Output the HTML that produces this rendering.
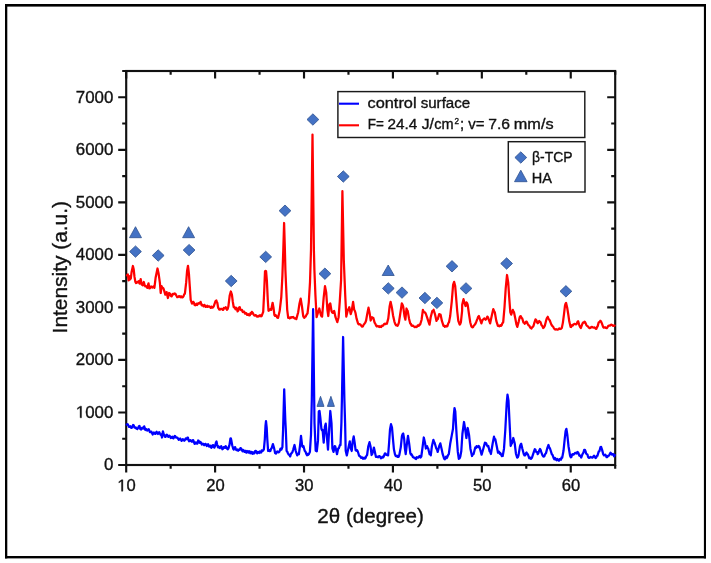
<!DOCTYPE html><html><head><meta charset="utf-8"><style>html,body{margin:0;padding:0;background:#fff;}svg{display:block;will-change:transform}</style></head><body>
<svg width="711" height="563" viewBox="0 0 711 563">
<rect x="0" y="0" width="711" height="563" fill="#fff"/>
<rect x="5" y="4" width="701" height="2.6" fill="#000"/><rect x="5" y="4" width="2.3" height="554.4" fill="#000"/><rect x="703.9" y="4" width="2.1" height="554.4" fill="#000"/><rect x="5" y="556" width="701" height="2.4" fill="#000"/>
<rect x="126.2" y="71.0" width="489.0" height="394.0" fill="none" stroke="#111" stroke-width="2.15"/>
<path d="M126.20,465.0V472.5M126.20,71.0V78.5M170.65,465.0V468.8M170.65,71.0V74.8M215.11,465.0V472.5M215.11,71.0V78.5M259.56,465.0V468.8M259.56,71.0V74.8M304.02,465.0V472.5M304.02,71.0V78.5M348.47,465.0V468.8M348.47,71.0V74.8M392.93,465.0V472.5M392.93,71.0V78.5M437.38,465.0V468.8M437.38,71.0V74.8M481.84,465.0V472.5M481.84,71.0V78.5M526.29,465.0V468.8M526.29,71.0V74.8M570.75,465.0V472.5M570.75,71.0V78.5M615.20,465.0V468.8M615.20,71.0V74.8M126.2,465.00H118.2M615.2,465.00H607.2M126.2,438.73H122.2M615.2,438.73H611.2M126.2,412.47H118.2M615.2,412.47H607.2M126.2,386.20H122.2M615.2,386.20H611.2M126.2,359.93H118.2M615.2,359.93H607.2M126.2,333.67H122.2M615.2,333.67H611.2M126.2,307.40H118.2M615.2,307.40H607.2M126.2,281.13H122.2M615.2,281.13H611.2M126.2,254.87H118.2M615.2,254.87H607.2M126.2,228.60H122.2M615.2,228.60H611.2M126.2,202.33H118.2M615.2,202.33H607.2M126.2,176.07H122.2M615.2,176.07H611.2M126.2,149.80H118.2M615.2,149.80H607.2M126.2,123.53H122.2M615.2,123.53H611.2M126.2,97.27H118.2M615.2,97.27H607.2M126.2,71.00H122.2M615.2,71.00H611.2" fill="none" stroke="#111" stroke-width="2.15"/>
<path d="M127.0,275.3 L127.8,274.4 L128.6,280.3 L129.1,276.1 L129.9,279.5 L130.4,278.5 L130.8,278.6 L131.6,271.9 L132.9,266.0 L133.7,269.3 L134.5,276.9 L135.4,282.0 L136.1,283.1 L136.7,282.8 L137.3,281.8 L137.9,282.0 L138.4,282.3 L138.8,281.2 L139.6,283.7 L140.7,279.1 L141.7,284.5 L142.2,284.3 L142.7,285.4 L143.8,282.0 L144.7,285.4 L145.3,286.3 L145.9,286.2 L146.6,286.6 L147.2,287.9 L148.5,283.3 L149.3,288.3 L149.9,288.2 L150.6,286.6 L151.2,286.5 L151.8,287.5 L152.4,287.6 L153.1,286.6 L153.8,286.4 L154.4,287.9 L155.6,277.8 L157.5,268.5 L158.6,273.6 L159.9,282.8 L160.7,293.0 L161.6,286.2 L162.2,287.7 L162.8,287.9 L163.4,288.4 L164.1,290.4 L165.3,294.7 L165.9,294.0 L166.6,292.1 L167.9,298.0 L169.1,293.0 L169.8,293.4 L170.4,295.1 L171.1,296.2 L171.7,296.4 L172.3,294.4 L172.9,293.8 L173.8,294.4 L174.6,293.4 L175.4,293.8 L176.3,295.5 L177.2,297.1 L178.0,297.2 L178.8,296.1 L179.7,296.4 L180.4,297.2 L181.1,296.3 L181.8,297.3 L182.7,297.3 L183.6,296.0 L184.2,294.3 L184.9,293.7 L186.2,282.2 L187.1,270.7 L188.0,265.8 L188.9,273.3 L189.8,286.6 L190.7,299.9 L192.0,303.6 L192.7,303.1 L193.3,301.8 L193.9,302.6 L194.6,304.9 L195.3,305.3 L196.0,304.5 L196.6,303.6 L197.2,305.0 L197.8,304.0 L198.4,303.1 L199.1,303.6 L199.8,303.5 L200.6,301.8 L201.7,305.4 L202.4,305.0 L203.1,305.8 L203.7,306.4 L204.3,304.9 L204.9,305.4 L205.8,306.9 L206.6,306.7 L207.2,305.8 L207.8,306.9 L208.4,306.3 L209.3,306.3 L210.2,307.2 L210.8,307.9 L211.4,306.6 L212.0,307.6 L212.8,307.6 L213.7,306.3 L215.1,302.3 L215.8,300.7 L216.4,300.5 L216.9,302.2 L217.3,302.7 L218.2,308.0 L218.6,308.1 L219.1,309.4 L219.9,309.7 L220.8,308.9 L221.7,308.8 L222.6,309.8 L223.2,309.9 L223.8,307.9 L224.4,308.0 L225.1,308.4 L225.7,307.2 L226.3,307.8 L227.0,309.8 L227.7,308.9 L228.4,306.3 L229.7,295.5 L230.8,291.5 L231.9,294.6 L232.8,301.7 L233.7,307.0 L234.3,306.9 L235.0,308.4 L235.6,309.2 L236.2,307.7 L236.8,308.4 L237.6,311.4 L238.3,310.5 L239.0,307.7 L239.7,307.1 L240.5,309.5 L241.3,310.3 L242.0,310.0 L242.8,312.0 L243.5,311.9 L244.2,311.7 L244.9,313.5 L245.6,313.5 L246.3,313.1 L247.0,314.9 L247.7,314.6 L248.4,314.2 L249.2,315.4 L249.9,315.1 L250.5,313.2 L251.2,313.8 L251.8,311.9 L252.7,312.8 L253.6,314.6 L254.4,315.6 L255.2,315.1 L255.9,315.2 L256.6,316.5 L257.3,316.7 L258.0,315.9 L258.7,316.5 L259.4,315.6 L260.1,315.2 L260.9,316.3 L261.6,316.2 L263.2,311.9 L264.2,291.6 L265.0,271.4 L265.6,270.9 L266.1,271.4 L266.9,281.0 L267.8,300.2 L268.5,310.8 L269.3,310.3 L270.1,309.2 L270.6,309.0 L271.2,309.8 L272.6,302.8 L273.5,307.6 L274.4,315.1 L275.1,315.9 L275.8,315.3 L276.5,316.2 L277.3,317.6 L278.1,317.8 L279.7,310.8 L281.3,297.0 L282.4,275.7 L283.3,250.0 L284.1,223.0 L284.9,250.0 L285.4,270.0 L286.1,286.3 L287.2,309.8 L288.2,317.8 L288.9,317.3 L289.7,318.4 L290.4,317.8 L291.1,317.2 L291.8,317.7 L292.5,317.2 L293.2,317.0 L293.9,317.8 L294.7,318.5 L295.5,318.3 L296.3,319.1 L298.2,312.2 L299.5,303.5 L300.7,298.6 L301.9,306.0 L303.2,316.0 L303.8,317.3 L304.4,317.8 L305.0,316.5 L305.7,316.5 L306.3,315.3 L306.9,314.1 L307.5,313.5 L308.8,302.3 L310.0,282.4 L311.0,250.0 L312.5,134.6 L313.9,250.0 L314.4,270.0 L315.4,294.8 L316.6,317.2 L318.1,312.2 L319.3,308.5 L320.8,314.7 L321.5,316.2 L322.1,316.6 L323.7,297.3 L325.0,286.1 L326.2,292.4 L327.4,309.8 L328.3,316.0 L329.3,304.8 L329.8,303.8 L330.3,303.5 L331.5,311.0 L332.2,312.5 L333.0,312.9 L333.6,311.4 L334.2,311.0 L335.5,317.2 L337.3,322.2 L338.6,317.2 L339.8,301.1 L341.1,279.9 L342.4,191.2 L343.8,260.0 L344.2,270.0 L345.2,294.8 L346.3,316.6 L347.9,309.8 L348.6,308.9 L349.3,307.2 L350.7,314.1 L351.7,310.9 L353.1,301.8 L354.2,309.8 L354.9,311.0 L355.5,313.0 L356.5,318.4 L358.1,323.7 L358.9,324.4 L359.7,324.2 L360.5,324.5 L361.3,325.8 L362.1,326.6 L362.9,326.4 L363.7,324.6 L364.5,323.7 L365.3,322.6 L366.1,320.5 L367.2,314.1 L368.5,307.7 L369.6,313.0 L370.7,320.5 L371.4,318.3 L372.0,317.3 L372.6,318.0 L373.3,317.8 L374.6,322.6 L375.4,323.8 L376.2,325.8 L376.9,326.5 L377.7,325.8 L378.4,326.4 L379.1,327.0 L379.8,326.1 L380.5,326.9 L381.2,327.0 L381.9,325.7 L382.6,325.8 L383.3,325.4 L384.1,324.0 L384.8,323.7 L385.5,324.2 L386.2,323.4 L386.9,323.7 L388.3,318.4 L389.6,306.6 L390.6,301.8 L391.9,307.7 L393.0,315.2 L394.4,321.6 L395.2,323.9 L396.0,325.3 L396.8,325.1 L397.6,325.8 L398.2,324.5 L398.9,322.6 L400.2,314.1 L401.8,303.4 L402.5,304.5 L403.2,306.6 L404.5,316.2 L405.4,319.7 L406.5,308.5 L407.1,310.2 L407.7,311.0 L409.0,318.4 L410.2,323.4 L410.8,323.7 L411.5,325.5 L412.1,325.9 L413.0,325.7 L413.9,326.5 L414.7,327.2 L415.6,326.6 L416.4,327.1 L417.0,326.8 L417.7,325.4 L418.3,325.3 L418.9,325.7 L419.5,324.5 L420.1,324.7 L421.6,319.7 L422.9,309.8 L423.5,311.4 L424.1,312.2 L424.9,312.4 L425.7,313.5 L427.0,317.2 L428.2,320.9 L429.5,324.7 L430.7,317.2 L432.3,311.0 L433.0,310.8 L433.6,309.8 L435.1,314.7 L436.5,320.9 L437.1,319.6 L437.8,319.1 L439.2,314.1 L439.9,314.8 L440.6,314.7 L441.9,320.9 L443.5,325.9 L444.2,325.7 L444.9,326.8 L445.6,326.5 L446.2,325.9 L446.9,326.5 L447.5,325.9 L448.2,323.5 L449.0,322.2 L450.2,316.0 L451.8,301.1 L453.1,284.9 L454.1,281.8 L455.2,286.1 L456.2,298.6 L457.2,311.0 L458.3,320.9 L459.7,324.7 L460.3,323.8 L460.9,322.2 L462.1,311.0 L462.2,304.8 L463.5,299.2 L464.7,303.5 L465.6,306.0 L466.5,302.3 L467.1,303.1 L467.7,304.8 L468.9,313.5 L470.2,322.2 L471.4,326.5 L472.2,327.3 L473.0,327.1 L473.9,325.5 L474.7,324.7 L475.4,323.8 L476.1,322.2 L477.6,318.4 L478.2,316.7 L478.9,316.0 L480.1,319.7 L481.4,323.4 L482.6,319.7 L483.4,319.4 L484.2,318.4 L484.9,318.7 L485.7,319.7 L486.5,318.6 L487.3,316.6 L488.0,317.3 L488.6,319.1 L490.1,323.4 L491.7,316.0 L493.3,309.1 L494.1,311.0 L494.8,312.2 L496.3,320.9 L497.9,325.9 L498.5,325.5 L499.2,326.3 L499.8,325.9 L500.4,325.1 L501.0,325.9 L501.6,325.3 L502.4,323.2 L503.2,322.2 L504.5,307.3 L505.7,288.6 L507.0,275.0 L508.2,282.4 L509.2,297.3 L510.3,312.2 L511.2,314.7 L512.8,309.8 L513.4,311.4 L514.0,312.2 L515.3,318.4 L516.5,324.7 L517.3,326.9 L518.7,321.6 L519.7,317.3 L520.2,316.3 L520.8,316.2 L521.5,317.8 L522.2,318.4 L523.5,322.6 L524.1,322.6 L524.7,323.7 L525.4,323.1 L526.1,321.6 L526.7,321.7 L527.2,322.6 L527.9,324.3 L528.6,325.3 L529.2,325.6 L529.9,326.9 L530.7,328.1 L531.5,328.5 L532.1,327.2 L532.8,326.9 L533.5,325.9 L534.1,323.7 L535.5,319.4 L536.0,319.8 L536.6,321.0 L537.2,322.5 L537.8,323.2 L538.5,321.6 L539.2,321.0 L539.9,322.0 L540.5,322.1 L541.6,325.3 L542.4,326.1 L543.2,328.0 L544.0,327.3 L544.8,325.8 L546.4,319.4 L547.1,317.8 L547.8,316.8 L548.4,318.5 L549.0,319.4 L549.8,320.5 L550.6,322.6 L551.4,324.6 L552.2,325.8 L553.0,326.5 L553.8,328.0 L554.6,329.2 L555.4,329.6 L556.2,329.2 L557.0,329.6 L557.8,329.7 L558.6,329.0 L559.4,328.4 L560.2,329.0 L561.0,328.8 L561.8,328.0 L562.9,322.6 L564.0,314.1 L565.0,305.6 L565.5,303.9 L566.1,302.9 L567.2,307.7 L568.4,315.2 L569.3,321.6 L570.6,326.9 L571.1,327.0 L571.6,326.0 L572.3,324.9 L572.9,325.5 L573.6,324.4 L574.4,323.8 L575.2,324.0 L576.0,324.4 L576.8,323.6 L577.5,321.8 L578.1,321.2 L579.2,324.8 L580.0,326.8 L580.8,328.0 L582.0,324.8 L582.7,323.1 L583.4,322.4 L584.0,322.6 L584.5,321.7 L585.1,322.2 L585.8,323.6 L586.5,325.3 L587.2,326.0 L588.0,326.4 L588.8,327.6 L589.6,328.2 L590.4,328.0 L591.2,327.0 L592.0,326.8 L592.8,327.5 L593.6,327.6 L594.4,327.3 L595.2,328.0 L595.8,328.8 L596.4,328.8 L597.0,327.1 L597.6,326.4 L598.7,322.4 L599.5,321.9 L600.3,320.8 L601.0,321.4 L601.8,323.2 L603.1,326.8 L603.7,327.7 L604.3,327.6 L605.1,327.2 L605.9,328.0 L606.7,328.2 L607.5,327.2 L608.3,325.8 L609.1,325.6 L609.9,325.7 L610.7,324.8 L611.5,324.7 L612.3,325.2 L613.1,325.9 L613.9,325.6 L614.7,325.6" fill="none" stroke="#ff0000" stroke-width="2.25" stroke-linejoin="round" stroke-linecap="round"/>
<path d="M126.7,424.6 L127.6,424.2 L128.4,425.5 L129.1,426.9 L129.8,426.9 L130.4,426.3 L131.1,427.8 L131.8,427.8 L132.4,426.4 L133.1,425.0 L133.8,425.5 L134.4,427.5 L135.1,427.8 L135.8,427.5 L136.4,428.6 L137.3,429.1 L138.2,427.8 L138.8,426.3 L139.5,426.0 L140.4,429.1 L141.1,429.5 L141.8,428.2 L142.4,427.7 L143.1,428.6 L143.6,428.2 L144.2,426.4 L145.3,430.0 L145.9,428.9 L146.6,429.5 L147.3,430.6 L148.0,429.5 L148.7,429.2 L149.3,430.4 L149.9,432.1 L150.6,432.2 L151.3,431.6 L152.0,433.1 L152.7,434.5 L153.3,433.5 L153.9,432.5 L154.6,433.5 L155.3,433.9 L156.0,432.6 L156.7,431.8 L157.3,433.5 L157.9,434.0 L158.6,433.1 L159.2,432.1 L159.9,433.5 L160.6,434.8 L161.3,434.4 L162.0,437.5 L162.9,431.3 L163.8,434.4 L164.3,434.8 L164.8,436.6 L165.5,436.8 L166.2,435.7 L166.8,434.7 L167.5,435.3 L168.2,436.9 L168.8,436.2 L169.5,435.7 L170.2,436.6 L170.8,438.0 L171.5,437.5 L172.2,436.7 L172.8,438.0 L173.4,438.4 L174.1,437.1 L174.8,435.9 L175.5,436.6 L176.2,437.7 L176.8,437.5 L177.4,437.5 L178.1,438.8 L178.8,439.8 L179.5,439.3 L180.2,438.5 L181.0,439.8 L181.6,440.9 L182.1,440.3 L182.8,439.2 L183.5,439.7 L184.3,440.7 L185.1,439.8 L185.7,438.5 L186.3,439.0 L186.9,439.2 L187.4,437.7 L187.9,437.6 L188.4,439.8 L189.1,441.3 L189.7,440.7 L190.3,440.1 L191.0,441.1 L191.8,441.7 L192.5,440.3 L193.2,440.1 L193.9,441.9 L194.6,443.9 L195.2,443.6 L195.8,442.3 L196.5,443.2 L197.1,443.8 L197.7,442.8 L198.2,440.5 L198.7,440.7 L199.2,442.4 L199.8,442.8 L200.4,441.9 L201.1,442.8 L201.8,444.5 L202.4,444.1 L203.0,443.6 L203.6,444.5 L204.2,445.2 L204.9,444.1 L205.6,443.9 L206.2,444.9 L206.8,446.1 L207.4,445.3 L208.1,444.2 L208.7,445.3 L209.3,446.7 L210.0,446.2 L210.6,445.8 L211.2,447.8 L211.8,447.4 L212.5,445.3 L213.2,445.1 L213.8,447.0 L214.4,447.6 L215.0,446.2 L215.9,442.8 L216.5,441.5 L217.1,444.5 L218.0,447.4 L218.6,446.4 L219.2,447.4 L219.8,448.1 L220.5,447.0 L221.2,446.1 L221.8,447.4 L222.4,449.3 L223.0,448.7 L223.7,447.1 L224.3,447.4 L224.9,447.8 L225.6,446.2 L226.2,446.6 L226.8,448.3 L227.7,449.4 L228.5,448.3 L229.4,445.3 L230.4,438.6 L230.9,438.4 L231.3,440.3 L232.2,445.3 L233.2,448.7 L233.8,449.5 L234.4,447.8 L235.1,447.1 L235.7,448.7 L236.3,450.2 L237.0,450.0 L237.6,449.5 L238.2,450.8 L238.9,449.6 L239.7,449.9 L240.4,448.1 L241.2,448.5 L241.9,450.1 L242.5,451.3 L243.2,450.0 L243.8,451.0 L244.5,451.9 L245.1,450.7 L245.8,451.5 L246.4,452.7 L247.1,451.0 L247.7,451.8 L248.4,452.6 L249.0,451.1 L249.7,452.0 L250.3,453.3 L251.0,451.7 L251.6,452.5 L252.3,453.7 L252.9,452.2 L253.6,453.5 L254.3,453.4 L255.1,451.0 L255.8,450.8 L256.5,452.5 L257.2,453.4 L257.8,451.9 L258.5,452.5 L259.1,453.0 L259.8,451.5 L260.4,452.0 L261.1,452.6 L261.7,450.4 L262.4,451.0 L263.1,450.6 L263.9,449.1 L264.8,439.3 L265.5,425.6 L266.0,421.2 L266.7,427.6 L267.3,439.3 L268.1,451.0 L268.6,450.0 L269.2,450.1 L269.8,451.2 L270.4,451.0 L271.0,448.9 L271.7,448.1 L272.9,444.2 L274.1,448.1 L275.1,453.0 L275.9,453.5 L276.6,452.5 L277.3,451.5 L278.0,452.0 L278.8,452.4 L279.5,451.5 L280.5,448.6 L281.4,449.6 L282.4,447.1 L283.1,429.5 L284.2,389.4 L285.3,420.0 L285.8,429.5 L286.6,451.0 L287.2,451.5 L287.8,453.0 L288.6,454.5 L289.3,454.5 L290.2,456.4 L290.9,454.0 L291.7,453.0 L292.4,452.1 L293.2,449.6 L294.5,445.0 L295.7,450.8 L297.2,455.4 L298.0,453.8 L298.9,454.2 L300.1,445.0 L301.0,435.8 L302.2,446.2 L302.9,447.0 L303.5,446.2 L304.7,450.8 L305.5,451.7 L306.4,454.2 L307.0,455.2 L307.6,453.8 L308.2,454.8 L309.0,453.9 L309.9,451.9 L311.0,434.6 L311.8,400.0 L313.1,309.2 L314.2,400.0 L314.5,423.1 L315.7,450.8 L316.2,450.1 L316.8,451.3 L318.0,440.4 L318.8,411.5 L319.5,411.0 L320.3,417.3 L321.4,428.8 L322.0,430.3 L322.6,430.0 L323.7,442.7 L324.9,426.5 L325.7,423.7 L326.6,433.5 L328.0,449.6 L329.2,428.8 L330.3,411.0 L331.5,423.1 L332.4,448.5 L333.5,451.9 L334.7,446.2 L335.2,446.4 L335.8,448.5 L337.0,454.2 L338.2,448.5 L338.9,448.2 L339.5,446.2 L340.0,444.9 L340.5,445.0 L341.4,423.1 L341.9,400.0 L343.1,337.0 L344.4,400.0 L345.1,423.1 L345.7,450.8 L346.8,455.4 L348.3,448.5 L349.8,441.3 L350.7,448.1 L351.7,451.0 L352.7,441.3 L353.7,436.4 L354.6,442.2 L355.6,450.1 L356.3,450.8 L357.0,450.1 L357.6,451.0 L358.3,453.0 L359.0,455.5 L359.7,456.4 L360.4,456.4 L361.0,457.9 L361.7,457.9 L362.3,457.5 L363.0,458.8 L363.6,458.4 L364.3,457.6 L364.9,458.6 L365.6,457.9 L366.4,455.9 L367.1,455.0 L368.3,446.2 L369.5,442.2 L370.5,446.2 L371.6,455.0 L372.2,454.1 L372.9,452.0 L373.9,447.6 L374.9,452.0 L375.9,456.9 L376.6,456.3 L377.3,456.9 L378.1,457.3 L378.8,456.4 L379.5,456.1 L380.2,456.9 L380.9,458.3 L381.7,457.9 L382.4,456.8 L383.2,457.4 L383.8,456.5 L384.4,454.5 L385.0,453.4 L385.6,453.5 L386.2,454.9 L386.9,455.0 L387.5,454.5 L388.1,455.4 L389.0,444.2 L390.0,429.5 L391.0,424.2 L392.0,427.6 L393.0,439.3 L393.9,449.1 L394.9,454.0 L395.6,455.8 L396.4,456.4 L397.1,455.7 L397.8,456.9 L398.6,456.9 L399.3,455.0 L400.8,447.1 L401.9,436.4 L402.5,434.2 L403.2,433.5 L404.2,439.3 L404.9,448.5 L405.7,454.2 L406.9,443.8 L408.0,435.8 L409.2,443.8 L410.3,453.1 L410.9,454.6 L411.5,454.1 L412.1,455.4 L413.0,457.1 L413.8,457.7 L414.6,457.6 L415.5,458.8 L416.1,459.1 L416.7,457.2 L417.3,457.7 L418.1,457.7 L419.0,456.5 L419.8,456.0 L420.5,457.5 L421.3,456.5 L422.7,446.2 L423.8,437.5 L425.0,442.7 L425.9,448.5 L426.5,446.6 L427.1,446.2 L427.6,447.9 L428.2,448.5 L429.6,454.2 L430.2,454.0 L430.8,455.4 L431.9,446.2 L433.4,439.8 L434.0,441.8 L434.6,442.7 L436.3,448.5 L437.0,449.4 L437.7,451.9 L439.2,446.2 L440.3,443.3 L441.5,448.5 L442.7,454.2 L444.2,458.8 L444.9,459.2 L445.5,457.7 L446.1,456.6 L446.7,458.1 L447.3,457.1 L448.1,455.0 L448.8,454.2 L450.2,443.8 L451.9,434.6 L453.0,428.8 L453.8,415.0 L454.5,408.1 L455.3,411.5 L455.9,423.1 L456.8,438.1 L457.8,451.9 L458.8,458.8 L459.6,458.3 L460.3,456.5 L461.3,451.0 L462.4,434.0 L464.0,422.0 L465.3,430.0 L466.4,438.0 L467.7,428.0 L469.1,435.3 L470.4,448.7 L472.0,456.0 L472.8,454.4 L473.6,454.0 L475.3,447.3 L476.0,448.0 L476.6,446.1 L477.3,446.7 L478.0,447.2 L478.7,446.0 L479.4,446.7 L480.0,448.7 L481.6,454.7 L483.3,448.7 L484.9,442.7 L485.5,444.0 L486.1,443.1 L486.7,444.7 L487.5,446.3 L488.3,446.0 L489.6,451.3 L490.2,451.7 L490.9,454.0 L492.7,443.3 L494.0,436.7 L494.6,438.9 L495.3,439.3 L496.7,446.0 L498.0,452.7 L498.6,451.4 L499.3,452.0 L499.9,453.8 L500.5,453.2 L501.1,454.7 L501.9,456.1 L502.7,456.0 L504.0,448.7 L505.3,430.0 L506.7,403.3 L507.5,394.7 L508.5,400.7 L509.6,423.3 L510.7,446.0 L511.4,444.0 L512.0,443.3 L513.3,438.0 L514.7,443.3 L516.0,454.0 L517.2,457.7 L517.9,457.1 L518.5,455.4 L520.0,446.2 L520.6,444.5 L521.2,443.8 L522.3,448.5 L523.8,454.2 L524.5,455.4 L525.2,455.4 L525.9,453.3 L526.6,452.5 L527.2,454.2 L527.8,454.2 L529.3,458.3 L530.1,457.6 L531.0,458.8 L531.9,457.8 L532.7,455.4 L534.2,450.8 L534.8,449.2 L535.4,449.6 L536.0,451.7 L536.5,451.9 L537.1,452.1 L537.7,454.2 L538.4,453.2 L539.1,450.8 L540.0,449.0 L540.6,449.8 L541.2,451.9 L542.5,455.4 L543.4,456.6 L544.3,456.5 L545.1,454.2 L546.0,453.1 L547.2,448.5 L548.5,445.0 L549.2,447.4 L550.0,448.5 L551.8,454.2 L552.6,455.1 L553.5,457.7 L554.3,459.2 L555.0,457.9 L555.8,459.4 L556.6,460.3 L557.3,459.0 L558.1,460.0 L558.9,460.7 L559.6,459.1 L560.4,459.4 L561.0,459.7 L561.6,457.3 L562.2,457.7 L563.5,450.8 L564.7,439.2 L565.6,431.2 L566.4,428.8 L567.3,434.6 L568.5,446.2 L570.1,455.8 L570.8,457.3 L571.4,457.1 L572.0,454.7 L572.7,454.1 L573.5,454.6 L574.4,453.7 L575.2,452.9 L576.1,453.3 L576.8,453.5 L577.4,452.0 L578.0,452.2 L578.7,453.7 L579.3,455.7 L579.9,455.8 L580.5,455.7 L581.2,457.5 L582.5,454.1 L583.4,452.7 L584.2,449.9 L584.9,449.8 L585.5,451.1 L586.1,453.6 L586.8,454.1 L587.5,454.7 L588.1,457.1 L589.0,457.9 L589.8,457.5 L590.6,456.9 L591.5,457.5 L592.4,457.7 L593.2,456.7 L594.0,455.7 L594.9,456.7 L595.5,458.0 L596.2,457.5 L596.8,456.1 L597.4,455.8 L598.7,451.6 L599.4,451.2 L600.0,449.0 L600.5,447.0 L601.1,446.9 L602.1,449.9 L603.2,454.1 L604.0,455.4 L604.7,455.0 L605.4,454.7 L606.0,455.8 L606.6,457.2 L607.2,457.1 L607.9,455.9 L608.5,455.8 L609.1,455.5 L609.8,454.1 L610.5,452.7 L611.1,453.3 L611.8,454.5 L612.4,454.1 L613.0,454.0 L613.6,455.4 L614.2,456.2 L614.8,455.0" fill="none" stroke="#0000ff" stroke-width="2.25" stroke-linejoin="round" stroke-linecap="round"/>
<path transform="translate(117.27,491.2) scale(0.008105,-0.008105)" d="M515 0V1237L197 1010V1180L530 1409H696V0Z" fill="#111" stroke="#111" stroke-width="43.2"/><text x="126.50" y="491.2" font-family="Liberation Sans, sans-serif" font-size="16.6" fill="#111" stroke="#111" stroke-width="0.35">0</text>
<text x="206.18" y="491.2" font-family="Liberation Sans, sans-serif" font-size="16.6" fill="#111" stroke="#111" stroke-width="0.35">20</text>
<text x="295.09" y="491.2" font-family="Liberation Sans, sans-serif" font-size="16.6" fill="#111" stroke="#111" stroke-width="0.35">30</text>
<text x="384.00" y="491.2" font-family="Liberation Sans, sans-serif" font-size="16.6" fill="#111" stroke="#111" stroke-width="0.35">40</text>
<text x="472.91" y="491.2" font-family="Liberation Sans, sans-serif" font-size="16.6" fill="#111" stroke="#111" stroke-width="0.35">50</text>
<text x="561.82" y="491.2" font-family="Liberation Sans, sans-serif" font-size="16.6" fill="#111" stroke="#111" stroke-width="0.35">60</text>
<text x="104.00" y="470.3" font-family="Liberation Sans, sans-serif" font-size="16.9" fill="#111" stroke="#111" stroke-width="0.35">0</text>
<path transform="translate(75.81,417.8) scale(0.008252,-0.008252)" d="M515 0V1237L197 1010V1180L530 1409H696V0Z" fill="#111" stroke="#111" stroke-width="42.4"/><text x="85.21" y="417.8" font-family="Liberation Sans, sans-serif" font-size="16.9" fill="#111" stroke="#111" stroke-width="0.35">000</text>
<text x="75.81" y="365.2" font-family="Liberation Sans, sans-serif" font-size="16.9" fill="#111" stroke="#111" stroke-width="0.35">2000</text>
<text x="75.81" y="312.7" font-family="Liberation Sans, sans-serif" font-size="16.9" fill="#111" stroke="#111" stroke-width="0.35">3000</text>
<text x="75.81" y="260.2" font-family="Liberation Sans, sans-serif" font-size="16.9" fill="#111" stroke="#111" stroke-width="0.35">4000</text>
<text x="75.81" y="207.6" font-family="Liberation Sans, sans-serif" font-size="16.9" fill="#111" stroke="#111" stroke-width="0.35">5000</text>
<text x="75.81" y="155.1" font-family="Liberation Sans, sans-serif" font-size="16.9" fill="#111" stroke="#111" stroke-width="0.35">6000</text>
<text x="75.81" y="102.6" font-family="Liberation Sans, sans-serif" font-size="16.9" fill="#111" stroke="#111" stroke-width="0.35">7000</text>
<text x="370.5" y="522.7" font-family="Liberation Sans, sans-serif" font-size="20.6" text-anchor="middle" fill="#111" stroke="#111" stroke-width="0.35">2θ (degree)</text>
<text transform="translate(67.2,267.2) rotate(-90)" x="0" y="0" font-family="Liberation Sans, sans-serif" font-size="20.9" text-anchor="middle" fill="#111" stroke="#111" stroke-width="0.35">Intensity (a.u.)</text>
<path d="M129.6,251.6L135.5,245.9L141.4,251.6L135.5,257.3Z" fill="#4472c4" stroke="#2f528f" stroke-width="0.8"/>
<path d="M152.3,255.5L158.2,249.8L164.1,255.5L158.2,261.2Z" fill="#4472c4" stroke="#2f528f" stroke-width="0.8"/>
<path d="M183.2,250.1L189.1,244.4L195.0,250.1L189.1,255.8Z" fill="#4472c4" stroke="#2f528f" stroke-width="0.8"/>
<path d="M225.3,281.0L231.2,275.3L237.1,281.0L231.2,286.7Z" fill="#4472c4" stroke="#2f528f" stroke-width="0.8"/>
<path d="M259.8,256.9L265.7,251.2L271.6,256.9L265.7,262.6Z" fill="#4472c4" stroke="#2f528f" stroke-width="0.8"/>
<path d="M279.1,210.7L285.0,205.0L290.9,210.7L285.0,216.4Z" fill="#4472c4" stroke="#2f528f" stroke-width="0.8"/>
<path d="M307.0,119.5L312.9,113.8L318.8,119.5L312.9,125.2Z" fill="#4472c4" stroke="#2f528f" stroke-width="0.8"/>
<path d="M319.0,273.7L324.9,268.0L330.8,273.7L324.9,279.4Z" fill="#4472c4" stroke="#2f528f" stroke-width="0.8"/>
<path d="M337.4,176.5L343.3,170.8L349.2,176.5L343.3,182.2Z" fill="#4472c4" stroke="#2f528f" stroke-width="0.8"/>
<path d="M382.4,288.4L388.3,282.7L394.2,288.4L388.3,294.1Z" fill="#4472c4" stroke="#2f528f" stroke-width="0.8"/>
<path d="M396.1,292.6L402.0,286.9L407.9,292.6L402.0,298.3Z" fill="#4472c4" stroke="#2f528f" stroke-width="0.8"/>
<path d="M419.0,298.0L424.9,292.3L430.8,298.0L424.9,303.7Z" fill="#4472c4" stroke="#2f528f" stroke-width="0.8"/>
<path d="M431.0,302.9L436.9,297.2L442.8,302.9L436.9,308.6Z" fill="#4472c4" stroke="#2f528f" stroke-width="0.8"/>
<path d="M446.1,266.3L452.0,260.6L457.9,266.3L452.0,272.0Z" fill="#4472c4" stroke="#2f528f" stroke-width="0.8"/>
<path d="M460.1,288.4L466.0,282.7L471.9,288.4L466.0,294.1Z" fill="#4472c4" stroke="#2f528f" stroke-width="0.8"/>
<path d="M500.7,263.5L506.6,257.8L512.5,263.5L506.6,269.2Z" fill="#4472c4" stroke="#2f528f" stroke-width="0.8"/>
<path d="M560.0,291.3L565.9,285.6L571.8,291.3L565.9,297.0Z" fill="#4472c4" stroke="#2f528f" stroke-width="0.8"/>
<path d="M129.5,237.7L135.5,226.7L141.5,237.7Z" fill="#4472c4" stroke="#2f528f" stroke-width="0.8"/>
<path d="M182.6,237.7L188.6,226.7L194.6,237.7Z" fill="#4472c4" stroke="#2f528f" stroke-width="0.8"/>
<path d="M382.2,275.5L388.2,265.0L394.2,275.5Z" fill="#4472c4" stroke="#2f528f" stroke-width="0.8"/>
<path d="M317.0,406.4L320.5,396.3L324.0,406.4Z" fill="#4472c4" stroke="#2f528f" stroke-width="0.8"/>
<path d="M327.4,406.4L330.9,396.3L334.4,406.4Z" fill="#4472c4" stroke="#2f528f" stroke-width="0.8"/>
<rect x="337.9" y="91.6" width="246.9" height="45.9" fill="#fff" stroke="#1a1a1a" stroke-width="1.45"/>
<path d="M339,103.7H359" stroke="#0000ff" stroke-width="2.1"/>
<path d="M339,125.3H359" stroke="#ff0000" stroke-width="2.1"/>
<text x="367.51" y="108.0" font-family="Liberation Sans, sans-serif" font-size="14.9" textLength="49.08" lengthAdjust="spacingAndGlyphs" fill="#111" stroke="#111" stroke-width="0.35">control</text>
<text x="420.69" y="108.0" font-family="Liberation Sans, sans-serif" font-size="14.9" textLength="49.48" lengthAdjust="spacingAndGlyphs" fill="#111" stroke="#111" stroke-width="0.35">surface</text>
<text x="367.69" y="128.9" font-family="Liberation Sans, sans-serif" font-size="14.9" textLength="16.08" lengthAdjust="spacingAndGlyphs" fill="#111" stroke="#111" stroke-width="0.35">F=</text>
<text x="387.53" y="128.9" font-family="Liberation Sans, sans-serif" font-size="14.9" textLength="29.81" lengthAdjust="spacingAndGlyphs" fill="#111" stroke="#111" stroke-width="0.35">24.4</text>
<text x="421.67" y="128.9" font-family="Liberation Sans, sans-serif" font-size="14.9" textLength="12.14" lengthAdjust="spacingAndGlyphs" fill="#111" stroke="#111" stroke-width="0.35">J/</text>
<text x="434.28" y="128.9" font-family="Liberation Sans, sans-serif" font-size="14.9" textLength="19.37" lengthAdjust="spacingAndGlyphs" fill="#111" stroke="#111" stroke-width="0.35">cm</text>
<text x="454.49" y="123.8" font-family="Liberation Sans, sans-serif" font-size="9.3" textLength="4.52" lengthAdjust="spacingAndGlyphs" fill="#111" stroke="#111" stroke-width="0.35">2</text>
<text x="459.9" y="128.9" font-family="Liberation Sans, sans-serif" font-size="14.9" fill="#111" stroke="#111" stroke-width="0.35">;</text>
<text x="468.36" y="128.9" font-family="Liberation Sans, sans-serif" font-size="14.9" textLength="16.27" lengthAdjust="spacingAndGlyphs" fill="#111" stroke="#111" stroke-width="0.35">v=</text>
<text x="488.22" y="128.9" font-family="Liberation Sans, sans-serif" font-size="14.9" textLength="21.75" lengthAdjust="spacingAndGlyphs" fill="#111" stroke="#111" stroke-width="0.35">7.6</text>
<text x="513.80" y="128.9" font-family="Liberation Sans, sans-serif" font-size="14.9" textLength="39.75" lengthAdjust="spacingAndGlyphs" fill="#111" stroke="#111" stroke-width="0.35">mm/s</text>
<rect x="508.3" y="141.7" width="76.7" height="50.3" fill="#fff" stroke="#1a1a1a" stroke-width="1.45"/>
<path d="M514.9,157.5L520.8,151.8L526.7,157.5L520.8,163.2Z" fill="#4472c4" stroke="#2f528f" stroke-width="0.8"/>
<path d="M514.5,181.7L520.8,170.2L527.1,181.7Z" fill="#4472c4" stroke="#2f528f" stroke-width="0.8"/>
<text x="532.03" y="162.0" font-family="Liberation Sans, sans-serif" font-size="14.3" textLength="40.48" lengthAdjust="spacingAndGlyphs" fill="#111" stroke="#111" stroke-width="0.35">β-TCP</text>
<text x="531.80" y="182.5" font-family="Liberation Sans, sans-serif" font-size="14.3" textLength="20.23" lengthAdjust="spacingAndGlyphs" fill="#111" stroke="#111" stroke-width="0.35">HA</text>
</svg></body></html>
